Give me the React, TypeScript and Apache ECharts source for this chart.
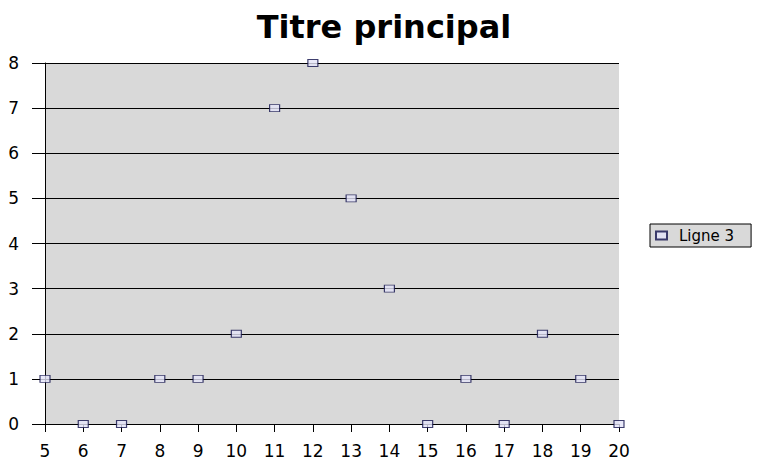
import React, { useEffect, useRef } from "react";
import * as echarts from "echarts";

const xValues = [5, 6, 7, 8, 9, 10, 11, 12, 13, 14, 15, 16, 17, 18, 19, 20];
const yValues = [1, 0, 0, 1, 1, 2, 7, 8, 5, 3, 0, 1, 0, 2, 1, 0];
const seriesName = "Ligne 3";
const titleText = "Titre principal";

export default function App() {
  const ref = useRef<HTMLDivElement>(null);
  useEffect(() => {
    if (!ref.current) return;
    const chart = echarts.init(ref.current, undefined, { renderer: "svg" });
    const font = "DejaVu Sans, Liberation Sans, sans-serif";
    chart.setOption({
      animation: false,
      backgroundColor: "#ffffff",
      title: {
        text: titleText,
        left: "center",
        top: 6,
        textStyle: { fontFamily: font, fontSize: 32, fontWeight: "bold", color: "#000" },
      },
      legend: {
        left: 650,
        top: 224,
        orient: "vertical",
        backgroundColor: "#d9d9d9",
        borderColor: "#000",
        borderWidth: 1,
        borderRadius: 0,
        padding: [4, 17, 4, 5],
        itemWidth: 11,
        itemHeight: 8,
        itemGap: 0,
        textStyle: { fontFamily: font, fontSize: 15, color: "#000", padding: [0, 0, 0, 7] },
        data: [{ name: seriesName, icon: "rect" }],
      },
      grid: {
        left: 45,
        right: 149,
        top: 63,
        bottom: 45,
        show: true,
        backgroundColor: "#d9d9d9",
        borderWidth: 0,
      },
      xAxis: {
        type: "value",
        min: 5,
        max: 20,
        interval: 1,
        splitLine: { show: false },
        axisLine: { show: true, onZero: false, lineStyle: { color: "#000", width: 1 } },
        axisTick: { show: true, length: 8, lineStyle: { color: "#000" } },
        axisLabel: { fontFamily: font, fontSize: 17, color: "#000", margin: 18 },
      },
      yAxis: {
        type: "value",
        min: 0,
        max: 8,
        interval: 1,
        splitLine: { show: true, lineStyle: { color: "#000", width: 1 } },
        axisLine: { show: true, lineStyle: { color: "#000", width: 1 } },
        axisTick: { show: true, length: 13, lineStyle: { color: "#000" } },
        axisLabel: { fontFamily: font, fontSize: 17, color: "#000", margin: 26 },
      },
      series: [
        {
          name: seriesName,
          type: "scatter",
          data: xValues.map((x, i) => [x, yValues[i]]),
          symbol: "rect",
          symbolSize: [10, 7],
          clip: false,
          itemStyle: { color: "#e4e4f8", borderColor: "#10104a", borderWidth: 1 },
        },
      ],
    });
    return () => chart.dispose();
  }, []);
  return <div ref={ref} style={{ width: 768, height: 469, position: "absolute", left: 0, top: 0 }} />;
}
